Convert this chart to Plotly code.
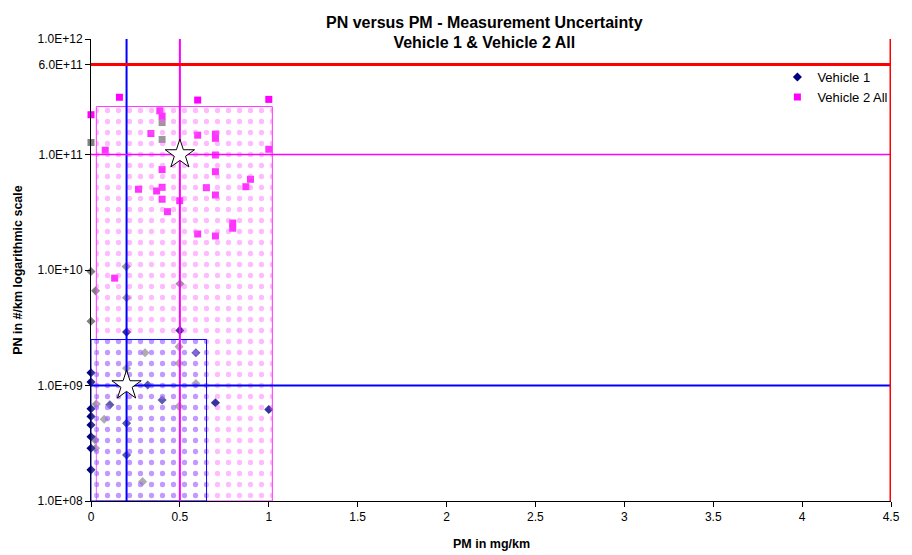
import plotly.graph_objects as go

# ---- data ----
v1_x = [0, 0, 0, 0, 0, 0, 0, 0, 0.2, 0.5, 0.106, 0.2, 0.2, 0.319, 0.40, 0.59, 0.70, 1.0]
v1_y = [1.29e9, 1.07e9, 6.3e8, 5.4e8, 4.55e8, 3.6e8, 2.86e8, 1.86e8, 2.9e9, 3.0e9,
        6.8e8, 4.7e8, 2.5e8, 1.01e9, 7.5e8, 1.92e9, 7.1e8, 6.2e8]

v2_x = [0.16, 0.60, 1.0, 0, 0.08, 0.387, 0.40, 0.337, 0.60, 0.70, 0.70, 0.70, 1.0, 0.40,
        0.70, 0.897, 0.871, 0.649, 0.267, 0.369, 0.40, 0.70, 0.40, 0.499, 0.43, 0.797,
        0.797, 0.60, 0.70, 0.133]
v2_y = [3.13e11, 2.96e11, 3.0e11, 2.21e11, 1.09e11, 2.39e11, 2.15e11, 1.52e11, 1.47e11,
        1.5e11, 1.38e11, 9.9e10, 1.11e11, 7.4e10, 7.1e10, 6.1e10, 5.26e10, 5.16e10, 5.0e10,
        4.83e10, 5.2e10, 4.46e10, 4.1e10, 3.98e10, 3.2e10, 2.55e10, 2.3e10, 2.05e10,
        1.97e10, 8.5e9]

grey_dm_x = [0, 0.026, 0, 0.198, 0.2, 0.5, 0.03, 0.074, 0.022, 0.026, 0.2, 0.304, 0.29,
             0.495, 0.495, 0.495, 0.59]
grey_dm_y = [9.7e9, 6.6e9, 3.6e9, 1.07e10, 5.75e9, 7.6e9, 6.9e8, 5.1e8, 3.4e8, 2.86e8,
             1.41e9, 1.92e9, 1.47e8, 2.17e9, 1.56e9, 6.6e8, 1.04e9]

grey_sq_x = [0, 0.40, 0.40]
grey_sq_y = [1.27e11, 1.89e11, 1.35e11]

# uncertainty boxes (x0, x1, y0, y1)
box_v1 = [0, 0.65, 1e8, 2.5e9]
box_v2 = [0.03, 1.02, 1e8, 2.6e11]

# reference points (stars) and limits
star_x = [0.2, 0.5]
star_y = [1e9, 1e11]
pm_v1 = 0.2
pm_v2 = 0.5
pn_v1 = 1e9
pn_v2 = 1e11
pm_limit = 4.5
pn_limit = 6e11

y_tickvals = [1e8, 1e9, 1e10, 1e11, 6e11, 1e12]
y_ticktext = ["1.0E+08", "1.0E+09", "1.0E+10", "1.0E+11", "6.0E+11", "1.0E+12"]
x_tickvals = [0, 0.5, 1, 1.5, 2, 2.5, 3, 3.5, 4, 4.5]
x_ticktext = ["0", "0.5", "1", "1.5", "2", "2.5", "3", "3.5", "4", "4.5"]

FONT = "Liberation Sans, Arial, sans-serif"

fig = go.Figure()

fig.add_trace(go.Scatter(x=grey_dm_x, y=grey_dm_y, mode="markers", showlegend=False,
                         marker=dict(symbol="diamond", size=7, color="#808080"),
                         cliponaxis=False, hoverinfo="skip"))
fig.add_trace(go.Scatter(x=grey_sq_x, y=grey_sq_y, mode="markers", showlegend=False,
                         marker=dict(symbol="square", size=7, color="#808080"),
                         cliponaxis=False, hoverinfo="skip"))
fig.add_trace(go.Scatter(x=v1_x, y=v1_y, mode="markers", name="Vehicle 1",
                         marker=dict(symbol="diamond", size=7, color="#000080"),
                         cliponaxis=False))
fig.add_trace(go.Scatter(x=v2_x, y=v2_y, mode="markers", name="Vehicle 2 All",
                         marker=dict(symbol="square", size=7, color="#FF00FF"),
                         cliponaxis=False))


def box_trace(b, fg, line):
    x0, x1, y0, y1 = b
    return go.Scatter(
        x=[x0, x1, x1, x0, x0], y=[y0, y0, y1, y1, y0], mode="lines",
        fill="toself", showlegend=False, hoverinfo="skip",
        line=dict(color=line, width=1),
        fillcolor="rgba(0,0,0,0)",
        fillpattern=dict(shape=".", size=11, solidity=0.18, fgcolor=fg, fgopacity=0.4,
                         bgcolor="rgba(255,255,255,0.2)", fillmode="replace"),
    )


fig.add_trace(box_trace(box_v2, "#FF55FF", "#FF33FF"))
fig.add_trace(box_trace(box_v1, "#6655FF", "#0000FF"))

# lines
fig.add_trace(go.Scatter(x=[pm_v1, pm_v1], y=[1e8, 1e12], mode="lines", showlegend=False,
                         line=dict(color="#0000FF", width=2), hoverinfo="skip"))
fig.add_trace(go.Scatter(x=[pm_v2, pm_v2], y=[1e8, 1e12], mode="lines", showlegend=False,
                         line=dict(color="#FF00FF", width=2), hoverinfo="skip"))
fig.add_trace(go.Scatter(x=[0, pm_limit], y=[pn_v1, pn_v1], mode="lines", showlegend=False,
                         line=dict(color="#0000FF", width=2), hoverinfo="skip"))
fig.add_trace(go.Scatter(x=[0, pm_limit], y=[pn_v2, pn_v2], mode="lines", showlegend=False,
                         line=dict(color="#FF00FF", width=1.5), hoverinfo="skip"))
fig.add_trace(go.Scatter(x=[0, pm_limit], y=[pn_limit, pn_limit], mode="lines", showlegend=False,
                         line=dict(color="#FF0000", width=3), hoverinfo="skip", cliponaxis=False))
fig.add_trace(go.Scatter(x=[pm_limit, pm_limit], y=[1e8, 1e12], mode="lines", showlegend=False,
                         line=dict(color="#FF0000", width=3), hoverinfo="skip", cliponaxis=False))

fig.add_trace(go.Scatter(x=star_x, y=star_y, mode="markers", showlegend=False,
                         marker=dict(symbol="star", size=22, color="white",
                                     line=dict(color="black", width=1)),
                         hoverinfo="skip"))

fig.update_layout(
    width=912, height=555,
    margin=dict(l=91, r=12, t=39, b=54),
    paper_bgcolor="white", plot_bgcolor="white",
    font=dict(family=FONT, size=12, color="black"),
    title=dict(text="<b>PN versus PM - Measurement Uncertainty<br>Vehicle 1 &amp; Vehicle 2 All</b>",
               x=0.531, xanchor="center", xref="container",
               y=1 - 27.5 / 555, yanchor="middle", yref="container",
               font=dict(family=FONT, size=16, color="black")),
    legend=dict(x=0.858, y=0.95, xanchor="left", yanchor="top",
                bgcolor="rgba(0,0,0,0)", font=dict(size=13)),
    xaxis=dict(range=[0, 4.5], tickvals=x_tickvals, ticktext=x_ticktext,
               showgrid=False, zeroline=False, showline=True, linecolor="black", linewidth=1,
               ticks="outside", ticklen=5, tickcolor="black"),
    yaxis=dict(type="log", range=[8, 12], tickvals=y_tickvals, ticktext=y_ticktext,
               showgrid=False, zeroline=False, showline=True, linecolor="black", linewidth=1,
               ticks="outside", ticklen=5, tickcolor="black"),
    annotations=[
        dict(text="<b>PM in mg/km</b>", xref="paper", yref="paper", x=0.5, y=-0.093,
             xanchor="center", yanchor="middle", showarrow=False, font=dict(size=12.5)),
        dict(text="<b>PN in #/km logarithmic scale</b>", xref="paper", yref="paper",
             x=-0.0915, y=0.5, xanchor="center", yanchor="middle", textangle=-90,
             showarrow=False, font=dict(size=12.5)),
    ],
)

fig.write_html("out.html", post_script="document.body.style.margin='0';",
               config={"displayModeBar": False})
